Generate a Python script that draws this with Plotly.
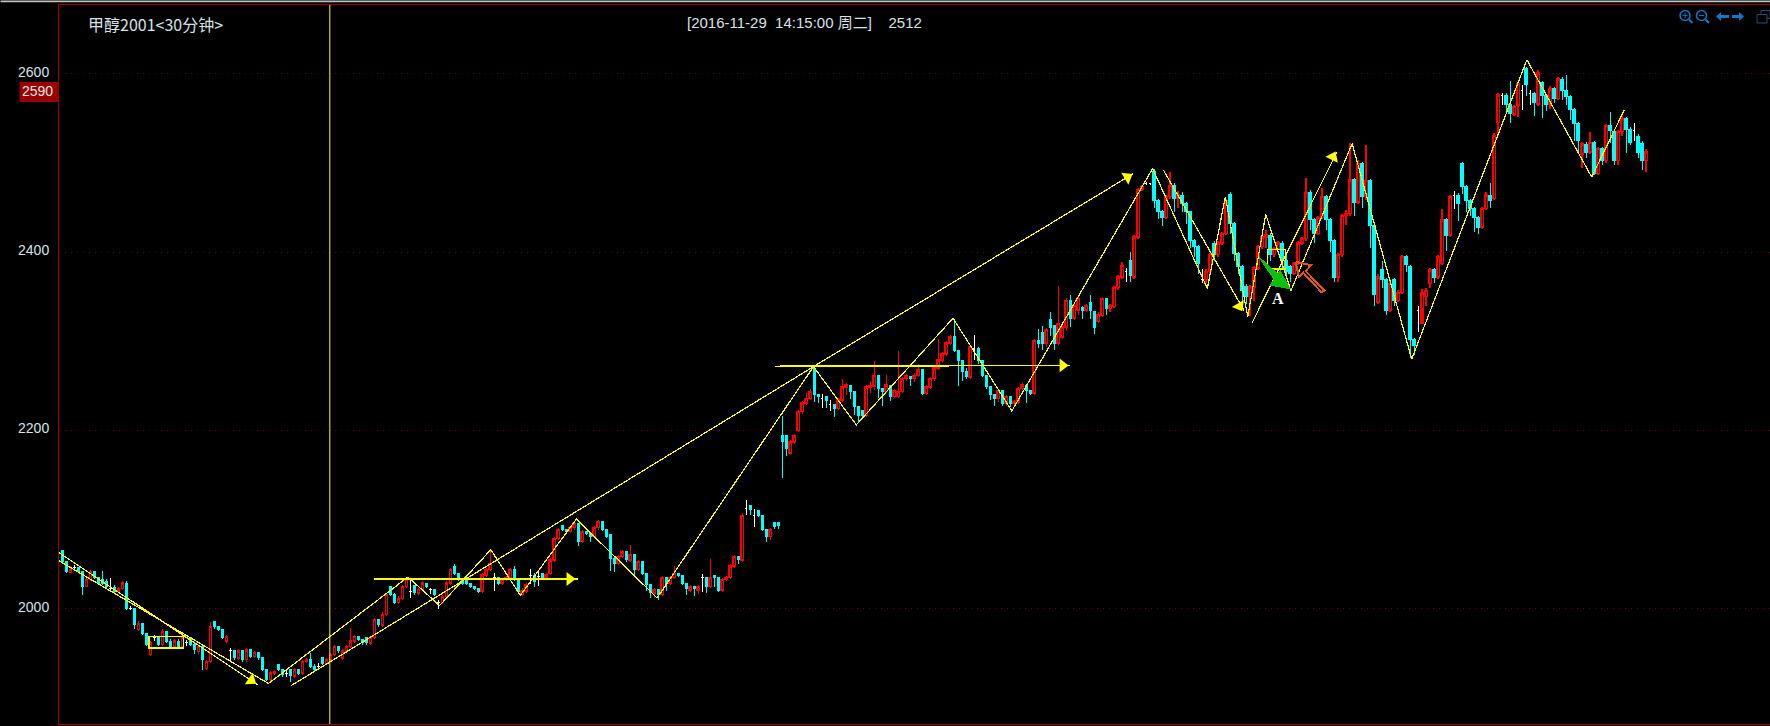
import plotly.graph_objects as go

# ---------- candles (one bar every 4 px) ----------
opens = [
2066,2053,2041,2046,2046,2042,2025,2033,2042,2035,2033,2031,2023,2024,2020,2023,2029,2001,2001,1977,
1984,1973,1949,1968,1968,1960,1975,1964,1958,1964,1958,1962,1968,1960,1952,1958,1933,1941,1986,1980,
1977,1964,1953,1953,1945,1953,1943,1954,1947,1951,1945,1932,1921,1928,1938,1932,1928,1932,1925,1932,
1928,1941,1943,1936,1936,1945,1939,1943,1949,1958,1945,1953,1958,1964,1969,1966,1968,1962,1968,1988,
1982,1994,2025,2016,2007,2012,2025,2020,2026,2018,2022,2029,2022,2022,2007,2007,2014,2029,2048,2040,
2033,2035,2029,2025,2023,2020,2038,2044,2035,2035,2029,2033,2035,2044,2033,2016,2020,2038,2038,2036,
2040,2035,2040,2055,2079,2094,2089,2087,2091,2096,2076,2087,2085,2081,2091,2098,2089,2083,2057,2051,
2059,2064,2055,2061,2044,2053,2040,2027,2018,2022,2016,2035,2029,2035,2040,2038,2029,2021,2025,2021,
2035,2035,2025,2038,2035,2021,2033,2035,2048,2059,2055,2113,2116,2105,2110,2105,2089,2081,2097,2097,
2194,2194,2175,2187,2200,2221,2231,2236,2270,2240,2236,2238,2229,2229,2225,2234,2249,2251,2244,2227,
2223,2217,2249,2250,2262,2247,2244,2251,2238,2238,2244,2258,2261,2258,2262,2268,2242,2249,2258,2270,
2279,2286,2298,2305,2290,2279,2266,2260,2292,2292,2279,2262,2249,2240,2236,2245,2230,2238,2230,2232,
2247,2251,2245,2242,2301,2310,2298,2325,2318,2298,2305,2316,2346,2326,2335,2338,2335,2344,2333,2322,
2329,2348,2337,2339,2360,2372,2378,2391,2372,2417,2470,2477,2477,2490,2458,2445,2439,2462,2475,2460,
2464,2454,2445,2413,2406,2369,2369,2378,2410,2397,2410,2421,2465,2432,2398,2384,2362,2350,2361,2382,
2406,2417,2419,2397,2404,2410,2391,2384,2376,2387,2410,2415,2467,2436,2421,2439,2462,2436,2413,2372,
2397,2441,2443,2481,2456,2499,2462,2480,2430,2344,2381,2369,2335,2369,2346,2355,2395,2384,2302,2335,
2320,2350,2365,2380,2372,2387,2436,2419,2464,2464,2499,2473,2458,2449,2439,2428,2449,2464,2460,2545,
2576,2576,2566,2555,2565,2581,2606,2578,2578,2566,2590,2575,2566,2583,2572,2594,2581,2574,2560,2544,
2510,2521,2512,2523,2488,2516,2503,2542,2535,2503,2535,2550,2538,2536,2530,2522,2503,
]
highs = [
2066,2053,2048,2049,2046,2042,2036,2044,2042,2035,2042,2033,2035,2027,2025,2031,2031,2003,2001,1986,
1984,1973,1964,1971,1970,1977,1975,1966,1966,1966,1970,1965,1968,1962,1960,1958,1943,1985,1986,1981,
1977,1971,1956,1953,1955,1953,1956,1954,1953,1951,1945,1932,1930,1932,1938,1932,1931,1932,1934,1932,
1943,1945,1951,1938,1939,1945,1945,1951,1960,1958,1955,1960,1979,1971,1969,1966,1968,1970,1990,1988,
1996,2018,2025,2018,2014,2027,2035,2033,2026,2024,2031,2029,2024,2022,2010,2016,2031,2046,2050,2040,
2033,2035,2029,2025,2023,2040,2046,2066,2040,2035,2035,2037,2046,2048,2033,2024,2029,2045,2040,2042,
2040,2040,2057,2081,2091,2094,2089,2093,2098,2096,2089,2087,2085,2093,2100,2098,2089,2083,2059,2061,
2066,2064,2072,2061,2055,2053,2040,2027,2024,2022,2037,2035,2037,2048,2040,2038,2029,2027,2025,2027,
2039,2035,2056,2038,2035,2035,2037,2050,2061,2059,2107,2122,2116,2112,2110,2105,2089,2091,2097,2097,
2216,2194,2189,2196,2223,2233,2242,2246,2272,2240,2241,2238,2234,2229,2236,2258,2253,2251,2244,2227,
2223,2251,2256,2278,2262,2247,2262,2251,2247,2289,2260,2263,2261,2264,2275,2268,2251,2260,2272,2303,
2288,2300,2307,2325,2290,2279,2270,2296,2307,2294,2279,2262,2249,2240,2247,2245,2240,2238,2234,2249,
2253,2251,2245,2303,2314,2317,2315,2333,2318,2362,2318,2348,2352,2342,2352,2340,2342,2352,2333,2333,
2350,2348,2342,2362,2374,2389,2382,2400,2419,2472,2475,2479,2478,2493,2460,2447,2464,2490,2478,2469,
2467,2456,2445,2415,2408,2381,2381,2399,2412,2412,2423,2460,2467,2434,2400,2386,2364,2363,2384,2408,
2419,2425,2421,2406,2412,2412,2400,2386,2389,2412,2417,2483,2470,2438,2441,2472,2464,2438,2415,2399,
2443,2447,2522,2483,2503,2501,2520,2482,2432,2375,2390,2371,2370,2371,2358,2397,2397,2386,2304,2340,
2359,2360,2382,2382,2397,2448,2438,2464,2468,2466,2501,2475,2460,2451,2441,2451,2467,2477,2533,2578,
2578,2578,2592,2565,2590,2587,2608,2582,2580,2604,2592,2577,2586,2585,2596,2596,2598,2576,2562,2546,
2523,2523,2535,2525,2518,2518,2544,2557,2537,2537,2555,2552,2540,2545,2532,2524,2516,
]
lows = [
2050,2040,2041,2043,2040,2016,2025,2031,2033,2027,2027,2023,2020,2018,2018,2021,1999,1999,1977,1975,
1971,1958,1947,1964,1958,1958,1962,1956,1956,1956,1956,1958,1958,1950,1950,1932,1931,1939,1978,1975,
1966,1962,1941,1943,1943,1941,1941,1945,1945,1943,1930,1919,1919,1926,1930,1924,1924,1918,1923,1926,
1926,1939,1934,1930,1932,1937,1937,1941,1947,1951,1943,1951,1956,1962,1964,1960,1960,1960,1966,1980,
1980,1992,2014,2005,2005,2010,2023,2012,2016,2016,2020,2023,2017,2014,2000,2005,2012,2027,2038,2031,
2027,2027,2023,2021,2018,2018,2036,2042,2020,2027,2027,2031,2033,2031,2018,2014,2018,2028,2025,2026,
2033,2033,2038,2053,2077,2087,2085,2085,2089,2070,2074,2083,2075,2079,2089,2087,2079,2043,2041,2049,
2057,2053,2053,2036,2042,2038,2020,2012,2012,2010,2014,2020,2027,2033,2036,2027,2016,2019,2015,2017,
2019,2018,2023,2025,2019,2019,2031,2033,2046,2050,2053,2105,2105,2092,2103,2087,2075,2077,2090,2090,
2147,2171,2173,2185,2198,2219,2229,2234,2232,2231,2225,2225,2222,2215,2223,2232,2240,2235,2217,2210,
2215,2215,2242,2245,2237,2227,2242,2233,2236,2236,2242,2256,2250,2254,2260,2240,2240,2247,2256,2268,
2277,2284,2296,2288,2250,2256,2258,2258,2279,2275,2260,2246,2234,2228,2232,2227,2228,2226,2226,2230,
2245,2231,2240,2240,2293,2290,2294,2306,2290,2296,2303,2312,2316,2324,2330,2325,2333,2325,2308,2320,
2327,2330,2333,2337,2358,2370,2367,2367,2370,2415,2468,2475,2475,2450,2437,2429,2437,2460,2445,2450,
2445,2432,2405,2395,2375,2365,2365,2376,2390,2395,2408,2419,2420,2390,2375,2343,2342,2328,2345,2380,
2404,2405,2390,2395,2402,2380,2371,2367,2374,2385,2408,2413,2425,2410,2419,2437,2425,2400,2367,2367,
2395,2430,2441,2440,2454,2450,2458,2405,2340,2342,2360,2330,2333,2340,2344,2353,2378,2281,2285,2310,
2337,2340,2360,2365,2370,2385,2401,2417,2448,2435,2465,2445,2440,2423,2420,2426,2447,2450,2458,2530,
2565,2555,2545,2553,2551,2559,2575,2565,2553,2564,2550,2558,2560,2567,2570,2570,2565,2548,2525,2512,
2494,2505,2510,2486,2486,2498,2500,2522,2498,2498,2530,2511,2520,2525,2505,2492,2490,
]
closes = [
2053,2042,2044,2046,2042,2025,2033,2042,2035,2029,2029,2025,2023,2020,2023,2029,2001,2001,1982,1984,
1973,1960,1962,1968,1960,1975,1964,1958,1964,1958,1968,1962,1960,1954,1958,1943,1941,1980,1980,1977,
1968,1969,1953,1945,1953,1943,1954,1947,1951,1945,1932,1921,1928,1930,1932,1926,1928,1925,1932,1928,
1941,1943,1936,1932,1936,1939,1943,1949,1958,1953,1953,1958,1964,1969,1966,1962,1962,1968,1988,1982,
1994,2016,2016,2007,2012,2025,2033,2020,2018,2022,2029,2025,2022,2016,2007,2014,2029,2044,2040,2033,
2029,2029,2025,2023,2020,2038,2044,2051,2035,2029,2033,2035,2044,2033,2020,2020,2027,2038,2031,2036,
2035,2038,2055,2079,2089,2089,2087,2091,2096,2076,2087,2085,2081,2091,2098,2089,2081,2057,2051,2059,
2064,2055,2061,2044,2053,2040,2027,2018,2022,2016,2035,2029,2035,2040,2038,2029,2023,2025,2023,2025,
2035,2025,2035,2035,2021,2033,2035,2048,2059,2055,2105,2113,2111,2105,2105,2089,2081,2089,2092,2094,
2188,2180,2187,2194,2221,2231,2236,2244,2240,2238,2236,2234,2229,2225,2234,2249,2251,2244,2227,2217,
2217,2249,2250,2262,2247,2244,2251,2238,2245,2244,2258,2261,2258,2262,2268,2242,2249,2258,2270,2279,
2286,2298,2305,2290,2279,2266,2260,2294,2292,2279,2262,2249,2240,2236,2245,2230,2238,2230,2232,2247,
2251,2245,2242,2301,2298,2298,2313,2316,2298,2320,2316,2346,2326,2340,2348,2335,2340,2335,2316,2330,
2348,2337,2340,2360,2372,2385,2378,2374,2417,2470,2473,2477,2477,2458,2445,2439,2462,2475,2460,2464,
2454,2445,2413,2406,2387,2369,2378,2397,2397,2410,2421,2458,2432,2398,2384,2357,2350,2361,2382,2406,
2417,2419,2397,2404,2410,2391,2378,2376,2387,2410,2415,2467,2436,2421,2439,2462,2436,2413,2372,2397,
2441,2443,2481,2456,2499,2462,2480,2430,2352,2372,2369,2335,2365,2346,2355,2395,2386,2302,2295,2335,
2354,2357,2380,2372,2395,2436,2419,2462,2464,2454,2473,2458,2449,2439,2428,2449,2464,2458,2531,2576,
2576,2566,2555,2563,2589,2581,2588,2578,2568,2601,2575,2566,2583,2572,2594,2581,2574,2560,2544,2525,
2521,2512,2523,2488,2516,2503,2542,2536,2503,2535,2550,2538,2523,2536,2512,2503,2512,
]

# ---------- hand-drawn overlays: (bar position, price) ----------
zigzag_x = [51.5,86.4,94.3,107.1,114.5,128.5,148.7,187.8,198.5,222.7,237.4,272.6,286.3,290.8,296.4,300.9,307.2,322.5,337.4,366.2,382.4,390.6]
zigzag_y = [1916.4,2035.8,2003.7,2066.4,2015.2,2100.7,2012.3,2271.6,2206.3,2325.8,2222,2493.6,2359.3,2461.9,2327.5,2442.5,2356.7,2521.6,2280,2615.6,2484.2,2559.7]
trend_lines = [
    ([-1, 48.8], [2063.4, 1915]),
    ([-0.9, 51.5], [2054, 1916.4]),
    ([57.1, 187.8, 267.8], [1913.8, 2271.6, 2488]),
    ([275.3, 295.5], [2492, 2334.3]),
    ([297.4, 318.7], [2320, 2512.2]),
]
flat_lines = [([77.8, 128.8], [2033.6, 2033.6]), ([178.2, 252], [2272, 2273])]
arrow_x = [47.2, 266.3, 294.3, 317.7, 126.8, 250.1]
arrow_y = [1920, 2484, 2339.5, 2506.6, 2033.6, 2273]
arrow_angle = [124, 59, 150, 26, 90, 90]
box_a_x = [21.6, 30.2, 30.2, 21.6, 21.6]
box_a_y = [1969.3, 1969.3, 1956.3, 1956.3, 1969.3]
box_b_x = [301.3, 305.9, 305.9, 301.3, 301.3]
box_b_y = [2403, 2403, 2381.3, 2381.3, 2403]
green_x = [299.3, 303.8, 304.5, 307, 302, 303, 299.3]
green_y = [2394, 2376, 2379, 2359, 2363, 2369.3, 2394]
orange_x = [308.4, 312.2, 310.9, 315.6, 314.8, 310.3, 309.2, 308.4]
orange_y = [2389, 2385.4, 2378.7, 2356.7, 2355.2, 2376.8, 2371.6, 2389]
cursor_x = 66.85
tick_values = [2000, 2200, 2400, 2600]
tick_labels = ["2000", "2200", "2400", "2600"]

YELLOW = "#ffff00"
RED = "#ff0000"
CYAN = "#00ffff"
FRAME = "#a00000"

L, T, B = 58.5, 4.5, 724.5
W, H = 1770, 726
def PX(v): return (v - L) / (W - L)
def PY(v): return 1 - (v - T) / (B - T)

bars = list(range(len(closes)))
plain = [i for i in bars if opens[i] != closes[i]]
doji = [i for i in bars if opens[i] == closes[i]]

fig = go.Figure()
fig.add_trace(go.Candlestick(
    x=plain, open=[opens[i] for i in plain], high=[highs[i] for i in plain],
    low=[lows[i] for i in plain], close=[closes[i] for i in plain],
    increasing=dict(line=dict(color=RED, width=1.4), fillcolor="#000000"),
    decreasing=dict(line=dict(color=CYAN, width=1), fillcolor=CYAN),
    whiskerwidth=0, showlegend=False))
fig.add_trace(go.Candlestick(
    x=doji, open=[opens[i] for i in doji], high=[highs[i] for i in doji],
    low=[lows[i] for i in doji], close=[closes[i] for i in doji],
    increasing=dict(line=dict(color="#ffffff", width=1), fillcolor="#ffffff"),
    decreasing=dict(line=dict(color="#ffffff", width=1), fillcolor="#ffffff"),
    whiskerwidth=0, showlegend=False))

def line(xs, ys, width=1.2, color=YELLOW):
    fig.add_trace(go.Scatter(x=xs, y=ys, mode="lines", showlegend=False, hoverinfo="skip",
                             line=dict(color=color, width=width)))

line(zigzag_x, zigzag_y)
for xs, ys in trend_lines:
    line(xs, ys)
for xs, ys in flat_lines:
    line(xs, ys, 1.5)
line(box_a_x, box_a_y, 1.5)
line(box_b_x, box_b_y, 1.5)
fig.add_trace(go.Scatter(x=green_x, y=green_y, mode="lines", fill="toself", fillcolor="#0cc00c",
                         line=dict(color="#0cc00c", width=1), showlegend=False, hoverinfo="skip"))
line(orange_x, orange_y, 2, "#e0541e")
fig.add_trace(go.Scatter(x=arrow_x, y=arrow_y, mode="markers", showlegend=False, hoverinfo="skip",
                         marker=dict(symbol="triangle-up", size=12, color=YELLOW, angle=arrow_angle)))

TXT = "#d8e0e8"
ann = [
    dict(x=PX(85.5), y=PY(24), text="甲醇2001&lt;30分钟&gt;", xanchor="left",
         font=dict(family="Noto Sans CJK SC", size=16, color=TXT)),
    dict(x=PX(684.5), y=PY(22.5), text="[2016-11-29\u00a0\u00a014:15:00 周二]\u00a0\u00a0\u00a0\u00a02512", xanchor="left",
         font=dict(family="Liberation Sans, Noto Sans CJK SC", size=15, color=TXT)),
    dict(x=PX(37), y=PY(91), text="2590", xanchor="center",
         font=dict(family="Liberation Sans", size=14, color="#e8e8e8")),
    dict(x=303.9, y=2348, xref="x", yref="y", text="<b>A</b>", xanchor="center",
         font=dict(family="Liberation Serif", size=16, color="#ffffff")),
]
for a in ann:
    a.setdefault("xref", "paper")
    a.setdefault("yref", "paper")
    a.update(showarrow=False, yanchor="middle")

ICON = "#0c78c8"
def seg(x0, y0, x1, y1, w=1.5, color=ICON):
    return dict(type="line", xref="paper", yref="paper", x0=PX(x0), y0=PY(y0), x1=PX(x1), y1=PY(y1),
                line=dict(color=color, width=w))
def disc(cx, cy, r):
    return dict(type="circle", xref="paper", yref="paper", x0=PX(cx-r), x1=PX(cx+r), y0=PY(cy+r), y1=PY(cy-r),
                line=dict(color=ICON, width=1.5))
def arrow(x0, x1, y):
    s = 1 if x1 > x0 else -1
    return [seg(x0, y, x1 - s*3, y, 3),
            dict(type="path", xref="paper", yref="paper", fillcolor=ICON, line=dict(width=0),
                 path=f"M {PX(x1)} {PY(y)} L {PX(x1-s*5)} {PY(y-4.5)} L {PX(x1-s*5)} {PY(y+4.5)} Z")]

shapes = [
    dict(type="rect", xref="paper", yref="paper", x0=PX(0), x1=PX(1770), y0=PY(0), y1=PY(1.7),
         fillcolor="#c0c0c0", line=dict(width=0)),
    dict(type="line", xref="x", yref="paper", x0=cursor_x, x1=cursor_x, y0=0, y1=1,
         line=dict(color=YELLOW, width=1)),
    dict(type="rect", xref="paper", yref="paper", x0=PX(19), x1=PX(58), y0=PY(81.7), y1=PY(101.7),
         fillcolor="#990000", line=dict(width=0)),
    disc(1685, 15, 5), seg(1689, 19, 1692.5, 22.5, 2), seg(1682.5, 15, 1687.5, 15, 1), seg(1685, 12.5, 1685, 17.5, 1),
    disc(1701.5, 15, 5), seg(1705.5, 19, 1709, 22.5, 2), seg(1699, 15, 1704, 15, 1),
    *arrow(1729, 1716, 16), *arrow(1732, 1744, 16),
    dict(type="rect", xref="paper", yref="paper", x0=PX(1761), x1=PX(1770), y0=PY(10), y1=PY(18),
         line=dict(color="#1f5070", width=1)),
    dict(type="rect", xref="paper", yref="paper", x0=PX(1757), x1=PX(1767), y0=PY(14), y1=PY(22.5),
         line=dict(color="#1f5070", width=1), fillcolor="#000000"),
]

fig.update_layout(
    width=W, height=H, autosize=False,
    margin=dict(l=L, r=0, t=T, b=H - B, pad=0),
    paper_bgcolor="#000000", plot_bgcolor="#000000",
    boxgap=0.15, hovermode=False, showlegend=False,
    annotations=ann, shapes=shapes,
    xaxis=dict(range=[(L - 62) / 4, (W - 62) / 4], rangeslider=dict(visible=False), showgrid=False,
               zeroline=False, showticklabels=False, ticks="", showline=True, mirror=True,
               linecolor=FRAME, linewidth=1),
    yaxis=dict(range=[1871, 2677], tickvals=tick_values, ticktext=tick_labels, showgrid=True,
               gridcolor="#7a0000", griddash="1px,5px", gridwidth=1, zeroline=False, showline=True,
               linecolor=FRAME, linewidth=1, ticks="outside", ticklen=6, tickcolor="#000000",
               ticklabelshift=-2,
               tickfont=dict(family="Liberation Sans", size=14, color=TXT)),
)

crisp = """
document.body.style.margin='0';document.body.style.overflow='hidden';
document.querySelectorAll('.boxes path, .scatterlayer path.js-line').forEach(function(p){p.style.shapeRendering='crispEdges';});
"""
fig.write_html("out.html", config=dict(displayModeBar=False), post_script=crisp)
